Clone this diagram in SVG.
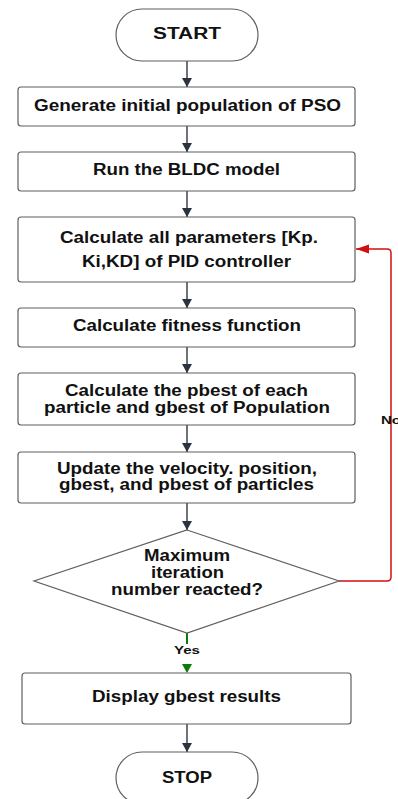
<svg xmlns="http://www.w3.org/2000/svg" width="398" height="799" viewBox="0 0 398 799">
<style>
.box{fill:#fff;stroke:#5f5f5f;stroke-width:1.2}
.t{font-family:"Liberation Sans",Arial,sans-serif;font-weight:bold;font-size:16px;fill:#111;text-anchor:middle}
.s{font-family:"Liberation Sans",Arial,sans-serif;font-weight:bold;font-size:11px;fill:#111}
.c{fill:none;stroke:#1f2530;stroke-width:1.3}
</style>
<defs>
<marker id="ad" markerUnits="userSpaceOnUse" markerWidth="12" markerHeight="12" refX="9" refY="5" orient="auto"><path d="M0,0 L9,5 L0,10 Z" fill="#2b3240"/></marker>
<marker id="ag" markerUnits="userSpaceOnUse" markerWidth="12" markerHeight="12" refX="9" refY="5" orient="auto"><path d="M0,0 L9,5 L0,10 Z" fill="#0a7a0a"/></marker>
<marker id="ar" markerUnits="userSpaceOnUse" markerWidth="16" markerHeight="12" refX="13" refY="4.5" orient="auto"><path d="M0,0 L13,4.5 L0,9 Z" fill="#d01010"/></marker>
</defs>
<rect width="398" height="799" fill="#fff"/>
<g id="connectors">
<line class="c" x1="187" y1="61" x2="187" y2="87" marker-end="url(#ad)"/>
<line class="c" x1="187" y1="126" x2="187" y2="152" marker-end="url(#ad)"/>
<line class="c" x1="187" y1="191" x2="187" y2="217" marker-end="url(#ad)"/>
<line class="c" x1="187" y1="282" x2="187" y2="308" marker-end="url(#ad)"/>
<line class="c" x1="187" y1="347" x2="187" y2="373" marker-end="url(#ad)"/>
<line class="c" x1="187" y1="425" x2="187" y2="452" marker-end="url(#ad)"/>
<line class="c" x1="187" y1="503" x2="187" y2="530" marker-end="url(#ad)"/>
<line x1="187" y1="633" x2="187" y2="644" stroke="#0a7a0a" stroke-width="2"/>
<line x1="187" y1="662" x2="187" y2="673" stroke="#0a7a0a" stroke-width="0.01" marker-end="url(#ag)"/>
<text class="s" x="187" y="654" text-anchor="middle" textLength="26" lengthAdjust="spacingAndGlyphs">Yes</text>
<line class="c" x1="187" y1="724" x2="187" y2="752" marker-end="url(#ad)"/>
<path d="M339,581 H387 Q391,581 391,577 V253 Q391,249 387,249 H356" fill="none" stroke="#d01010" stroke-width="1.5" marker-end="url(#ar)"/>
<text class="s" x="381" y="424" textLength="20" lengthAdjust="spacingAndGlyphs">No</text>
</g>
<g id="start">
<rect class="box" x="116" y="9" width="142" height="52" rx="26"/>
<text class="t" x="187" y="38.5" textLength="68" lengthAdjust="spacingAndGlyphs">START</text>
</g>
<g id="generate">
<rect class="box" x="18" y="87" width="337" height="39" rx="3"/>
<text class="t" x="187.5" y="110.5" textLength="307" lengthAdjust="spacingAndGlyphs">Generate initial population of PSO</text>
</g>
<g id="run">
<rect class="box" x="18" y="152" width="337" height="39" rx="3"/>
<text class="t" x="186.5" y="174.5" textLength="187" lengthAdjust="spacingAndGlyphs">Run the BLDC model</text>
</g>
<g id="params">
<rect class="box" x="18" y="217" width="337" height="65" rx="3"/>
<text class="t" x="189" y="242.5" textLength="258" lengthAdjust="spacingAndGlyphs">Calculate all parameters [Kp.</text>
<text class="t" x="186.5" y="266.5" textLength="209" lengthAdjust="spacingAndGlyphs">Ki,KD] of PID controller</text>
</g>
<g id="fitness">
<rect class="box" x="18" y="308" width="337" height="39" rx="3"/>
<text class="t" x="187" y="330.5" textLength="228" lengthAdjust="spacingAndGlyphs">Calculate fitness function</text>
</g>
<g id="pbest">
<rect class="box" x="18" y="373" width="337" height="52" rx="3"/>
<text class="t" x="186.5" y="395.5" textLength="243" lengthAdjust="spacingAndGlyphs">Calculate the pbest of each</text>
<text class="t" x="187" y="412.5" textLength="286" lengthAdjust="spacingAndGlyphs">particle and gbest of Population</text>
</g>
<g id="update">
<rect class="box" x="18" y="452" width="337" height="51" rx="3"/>
<text class="t" x="187" y="473.5" textLength="260" lengthAdjust="spacingAndGlyphs">Update the velocity. position,</text>
<text class="t" x="186.5" y="489.5" textLength="255" lengthAdjust="spacingAndGlyphs">gbest, and pbest of particles</text>
</g>
<g id="decision">
<polygon class="box" points="187,530 339,581 187,633 34,581"/>
<text class="t" x="187" y="560.5" textLength="86" lengthAdjust="spacingAndGlyphs">Maximum</text>
<text class="t" x="187.5" y="577.5" textLength="73" lengthAdjust="spacingAndGlyphs">iteration</text>
<text class="t" x="187" y="594.5" textLength="152" lengthAdjust="spacingAndGlyphs">number reacted?</text>
</g>
<g id="display">
<rect class="box" x="22" y="673" width="329" height="51" rx="3"/>
<text class="t" x="186.5" y="701.5" textLength="189" lengthAdjust="spacingAndGlyphs">Display gbest results</text>
</g>
<g id="stop">
<rect class="box" x="116" y="752" width="142" height="52" rx="26"/>
<text class="t" x="187" y="782.5" textLength="50" lengthAdjust="spacingAndGlyphs">STOP</text>
</g>
</svg>
